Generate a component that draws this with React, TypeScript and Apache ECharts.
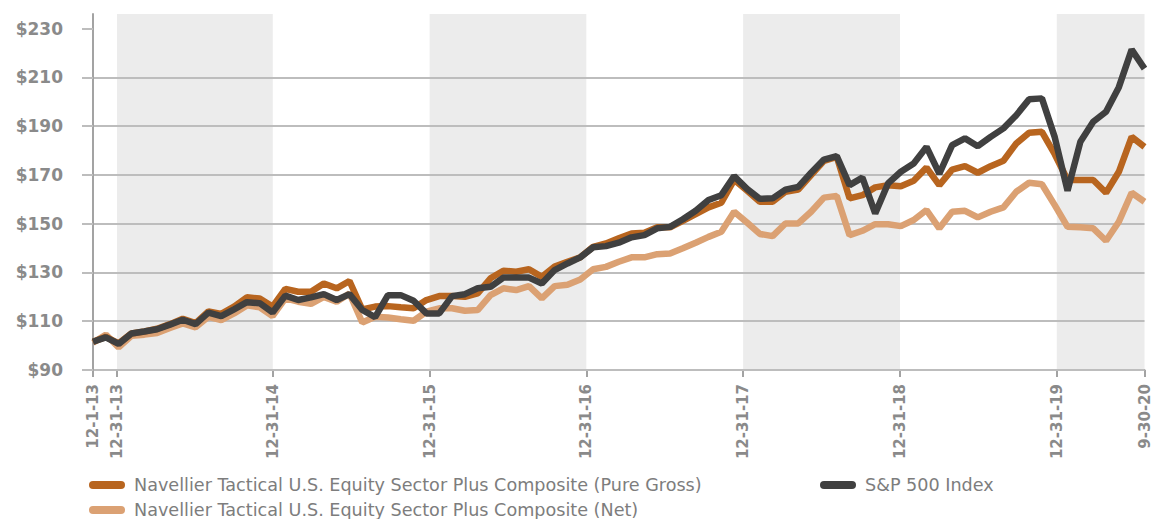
import React, { useEffect, useRef } from 'react';
import * as echarts from 'echarts';

// Month-end observations, Nov-2013 .. Sep-2020 (83 points)
const months: string[] = [
  '2013-11', '2013-12',
  '2014-01', '2014-02', '2014-03', '2014-04', '2014-05', '2014-06', '2014-07', '2014-08', '2014-09', '2014-10', '2014-11', '2014-12',
  '2015-01', '2015-02', '2015-03', '2015-04', '2015-05', '2015-06', '2015-07', '2015-08', '2015-09', '2015-10', '2015-11', '2015-12',
  '2016-01', '2016-02', '2016-03', '2016-04', '2016-05', '2016-06', '2016-07', '2016-08', '2016-09', '2016-10', '2016-11', '2016-12',
  '2017-01', '2017-02', '2017-03', '2017-04', '2017-05', '2017-06', '2017-07', '2017-08', '2017-09', '2017-10', '2017-11', '2017-12',
  '2018-01', '2018-02', '2018-03', '2018-04', '2018-05', '2018-06', '2018-07', '2018-08', '2018-09', '2018-10', '2018-11', '2018-12',
  '2019-01', '2019-02', '2019-03', '2019-04', '2019-05', '2019-06', '2019-07', '2019-08', '2019-09', '2019-10', '2019-11', '2019-12',
  '2020-01', '2020-02', '2020-03', '2020-04', '2020-05', '2020-06', '2020-07', '2020-08', '2020-09',
];

const grossValues: number[] = [
  101.6, 103.6, 100.9, 105.0, 105.8, 106.9, 108.8, 111.0, 109.2, 114.0, 113.0, 116.0, 119.8, 119.3,
  116.0, 123.3, 122.1, 122.1, 125.5, 123.5, 126.5, 114.8, 116.0, 116.2, 115.7, 115.3,
  118.7, 120.3, 120.3, 120.0, 121.4, 127.6, 130.7, 130.3, 131.3, 128.2, 132.4, 134.4,
  136.2, 140.5, 141.9, 144.0, 146.0, 146.3, 148.5, 148.5, 151.2, 153.9, 156.7, 158.6,
  168.0, 163.6, 159.0, 159.0, 163.1, 164.0, 169.9, 175.8, 177.4, 160.4, 161.7, 164.9,
  165.8, 165.4, 167.6, 173.0, 165.8, 172.2, 173.6, 170.9, 173.6, 175.8, 182.9, 187.3,
  187.7, 178.5, 167.9, 167.9, 167.9, 162.7, 171.3, 185.6, 181.5,
];

const netValues: number[] = [
  101.2, 104.5, 99.3, 104.0, 104.5, 105.2, 107.2, 109.1, 107.5, 111.8, 110.5, 113.2, 116.5, 115.7,
  112.1, 119.4, 118.0, 117.1, 120.0, 118.0, 121.4, 109.5, 111.8, 111.5, 110.8, 110.2,
  113.9, 115.3, 115.3, 114.3, 114.6, 120.7, 123.5, 122.8, 124.4, 119.4, 124.4, 125.0,
  127.1, 131.3, 132.3, 134.4, 136.2, 136.2, 137.5, 137.8, 139.9, 142.2, 144.6, 146.7,
  154.9, 150.5, 145.8, 144.9, 150.1, 150.1, 154.9, 160.7, 161.4, 145.3, 147.1, 149.8,
  149.8, 149.0, 151.5, 155.6, 148.1, 154.9, 155.3, 152.6, 154.9, 156.7, 163.1, 166.8,
  166.2, 157.6, 148.7, 148.5, 148.1, 143.0, 150.8, 162.7, 159.0,
];

const spValues: number[] = [
  101.6, 103.4, 100.7, 105.0, 105.8, 106.7, 108.6, 110.6, 108.8, 113.5, 112.1, 114.9, 117.8, 117.4,
  113.6, 120.5, 118.7, 119.8, 121.1, 118.7, 121.1, 114.6, 111.7, 120.7, 120.7, 118.4,
  113.2, 113.2, 120.3, 121.1, 123.5, 124.1, 127.9, 127.9, 127.9, 125.5, 131.0, 133.7,
  136.2, 140.3, 140.8, 142.2, 144.4, 145.3, 148.1, 148.7, 151.8, 155.3, 159.7, 161.7,
  169.5, 164.3, 160.2, 160.4, 164.0, 165.1, 170.9, 176.3, 177.7, 165.8, 168.9, 154.2,
  166.5, 171.3, 174.7, 181.5, 170.5, 182.2, 185.0, 181.8, 185.6, 189.1, 194.5, 201.0,
  201.4, 185.5, 163.5, 183.6, 191.8, 195.9, 206.0, 221.4, 213.6,
];

// X tick labels and where they sit on the month index scale
const tickLabels: string[] = ['12-1-13', '12-31-13', '12-31-14', '12-31-15', '12-31-16', '12-31-17', '12-31-18', '12-31-19', '9-30-20'];
const tickPositions: number[] = [0, 1.87, 14.02, 26.25, 38.47, 50.7, 62.93, 75.16, 82];

const yTicks: number[] = [90, 110, 130, 150, 170, 190, 210, 230];

const NAME_GROSS = 'Navellier Tactical U.S. Equity Sector Plus Composite (Pure Gross)';
const NAME_NET = 'Navellier Tactical U.S. Equity Sector Plus Composite (Net)';
const NAME_SP = 'S&P 500 Index';

const COLOR_GROSS = '#b8651f';
const COLOR_NET = '#dba173';
const COLOR_SP = '#404040';

const ICON = 'path://M4,0L32,0A4,4,0,0,1,32,8L4,8A4,4,0,0,1,4,0Z';

export default function App() {
  const ref = useRef<HTMLDivElement>(null);

  useEffect(() => {
    if (!ref.current) return;
    const chart = echarts.init(ref.current, undefined, { renderer: 'svg' });

    const toPairs = (vals: number[]) => months.map((_, i) => [i, vals[i]]);

    const legendBase = {
      orient: 'horizontal',
      padding: 0,
      icon: ICON,
      itemWidth: 36,
      itemHeight: 8,
      textStyle: {
        color: '#7d7d7d',
        fontFamily: 'DejaVu Sans',
        fontSize: 17.6,
        padding: [0, 0, 0, 4],
      },
    };

    const option: any = {
      animation: false,
      backgroundColor: '#ffffff',
      grid: { left: 93, right: 6, top: 14, bottom: 149, containLabel: false },
      xAxis: {
        type: 'value',
        min: 0,
        max: months.length - 1,
        z: 0,
        axisLine: { show: true, onZero: false, lineStyle: { color: '#a3a3a3', width: 2 } },
        axisTick: {
          show: true,
          customValues: tickPositions,
          length: 7,
          lineStyle: { color: '#a3a3a3', width: 2 },
        },
        axisLabel: {
          customValues: tickPositions,
          rotate: 90,
          margin: 14,
          color: '#8a8a8a',
          fontFamily: 'DejaVu Sans',
          fontWeight: 'bold',
          fontSize: 15,
          formatter: (v: number) => {
            let best = 0;
            for (let i = 1; i < tickPositions.length; i++) {
              if (Math.abs(tickPositions[i] - v) < Math.abs(tickPositions[best] - v)) best = i;
            }
            return tickLabels[best];
          },
        },
        splitLine: { show: false },
        splitArea: { show: true, areaStyle: { color: ['rgba(255,255,255,0)', '#ececec'] } },
      },
      yAxis: {
        type: 'value',
        min: 90,
        max: 236,
        z: 1,
        axisLine: { show: true, lineStyle: { color: '#a3a3a3', width: 2 } },
        axisTick: {
          show: true,
          customValues: yTicks,
          length: 11,
          lineStyle: { color: '#bdbdbd', width: 2 },
        },
        axisLabel: {
          customValues: yTicks,
          margin: 30,
          color: '#8a8a8a',
          fontFamily: 'DejaVu Sans',
          fontWeight: 'bold',
          fontSize: 17,
          formatter: (v: number) => '$' + v,
        },
        splitLine: { show: true, showMaxLine: false, lineStyle: { color: '#bdbdbd', width: 2 } },
      },
      legend: [
        { ...legendBase, data: [NAME_GROSS], left: 89, top: 476 },
        { ...legendBase, data: [NAME_SP], left: 820, top: 476 },
        { ...legendBase, data: [NAME_NET], left: 89, top: 501 },
      ],
      series: [
        {
          name: NAME_NET,
          type: 'line',
          data: toPairs(netValues),
          symbol: 'none',
          color: COLOR_NET,
          lineStyle: { color: COLOR_NET, width: 6.5 },
          z: 3,
        },
        {
          name: NAME_GROSS,
          type: 'line',
          data: toPairs(grossValues),
          symbol: 'none',
          color: COLOR_GROSS,
          lineStyle: { color: COLOR_GROSS, width: 6.5 },
          z: 4,
        },
        {
          name: NAME_SP,
          type: 'line',
          data: toPairs(spValues),
          symbol: 'none',
          color: COLOR_SP,
          lineStyle: { color: COLOR_SP, width: 6.5 },
          z: 5,
        },
      ],
    };

    chart.setOption(option);
    return () => chart.dispose();
  }, []);

  return (
    <div
      ref={ref}
      style={{ position: 'fixed', left: 0, top: 0, width: 1152, height: 519, background: '#fff' }}
    />
  );
}
